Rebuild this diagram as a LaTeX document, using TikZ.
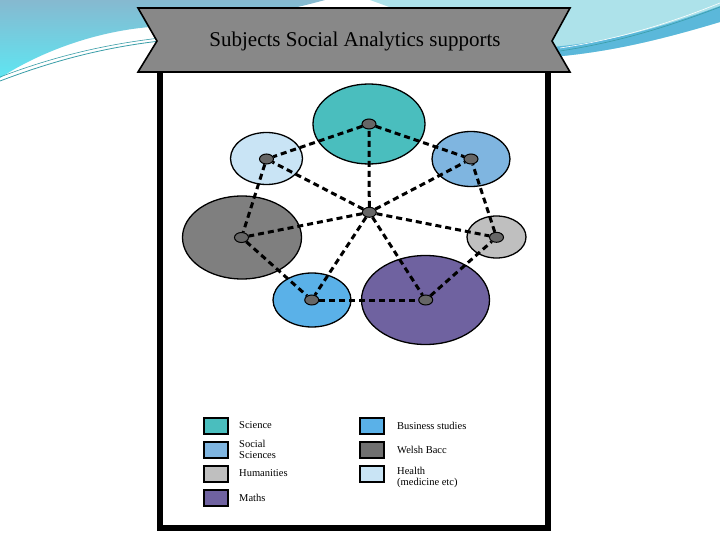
\documentclass[tikz,border=0pt]{standalone}
\usepackage{fontspec}
\setmainfont{Liberation Serif}
\usetikzlibrary{shapes.geometric}
\definecolor{sciC}{HTML}{4ABEBE}
\definecolor{socC}{HTML}{7FB5E0}
\definecolor{humC}{HTML}{BFBFBF}
\definecolor{matC}{HTML}{6F62A0}
\definecolor{busC}{HTML}{5AB1E8}
\definecolor{welC}{HTML}{7F7F7F}
\definecolor{welL}{HTML}{707070}
\definecolor{heaC}{HTML}{C9E4F5}
\definecolor{banC}{HTML}{888888}
\definecolor{dotC}{HTML}{666666}
\definecolor{bgTop}{HTML}{86B9D0}
\definecolor{bgBot}{HTML}{5EE6F2}
\definecolor{bgR}{HTML}{ADE2EA}
\definecolor{bgBand}{HTML}{5BB8DA}
\definecolor{swLine}{HTML}{3A9EA8}
\begin{document}
\begin{tikzpicture}[x=1pt,y=-1pt,
  bubble/.style={ellipse, draw=black, line width=1.3pt, inner sep=0pt},
  hubdot/.style={ellipse, draw=black, line width=1pt, fill=dotC, minimum width=14pt, minimum height=10pt, inner sep=0pt},
  link/.style={draw=black, line width=3pt, dash pattern=on 6pt off 4pt},
  legbox/.style={rectangle, draw=black, line width=2pt, minimum width=24pt, minimum height=16pt, inner sep=0pt},
  legtext/.style={anchor=west, align=left, inner sep=0pt, font=\fontsize{10.5}{11}\selectfont}]
\useasboundingbox (0,0) rectangle (720,540);
\fill[white] (0,0) rectangle (720,540);
% background swooshes
\shade[top color=bgTop, bottom color=bgBot] (0,0) -- (325,0) .. controls (260,18) and (200,24) .. (150,27) .. controls (90,32) and (35,55) .. (0,78) -- cycle;
\draw[swLine, line width=0.8pt] (0,81) .. controls (50,62) and (100,48) .. (160,41);
\draw[swLine, line width=0.6pt] (0,77) .. controls (50,58) and (100,45) .. (160,38);
\fill[bgR] (370,0) -- (720,0) -- (720,22) .. controls (660,40) and (610,52) .. (552,57) -- (480,40) -- cycle;
\fill[bgBand] (720,6) .. controls (660,28) and (610,42) .. (552,47) -- (552,57) .. controls (610,52) and (660,40) .. (720,22) -- cycle;
\draw[white, line width=0.6pt] (560,48) .. controls (620,39) and (670,23) .. (720,3);
\draw[swLine, line width=0.6pt] (560,51) .. controls (620,42) and (670,26) .. (720,7);
% board
\fill[white] (160,72) rectangle (548,528);
\draw[black, line width=6pt] (160,70) -- (160,528) -- (548,528) -- (548,70);
% banner
\draw[fill=banC, line width=1.6pt, line join=miter] (138,8) -- (570,8) -- (552,41) -- (570,72) -- (138,72) -- (157,41) -- cycle;
\node[font=\fontsize{21}{24}\selectfont] (title) at (355,41) {Subjects Social Analytics supports};
% bubbles
\node[bubble, fill=sciC, minimum width=112pt, minimum height=80pt] (bsci) at (369,124) {};
\node[bubble, fill=heaC, minimum width=72pt, minimum height=52pt] (bhea) at (266.5,158.5) {};
\node[bubble, fill=socC, minimum width=78pt, minimum height=55pt] (bsoc) at (471,159) {};
\node[bubble, fill=welC, minimum width=119pt, minimum height=83pt] (bwel) at (242,237.5) {};
\node[bubble, fill=humC, minimum width=59pt, minimum height=42pt] (bhum) at (496.5,237) {};
\node[bubble, fill=busC, minimum width=78pt, minimum height=54pt] (bbus) at (312,300) {};
\node[bubble, fill=matC, minimum width=128pt, minimum height=89pt] (bmat) at (425.5,300) {};
% dots
\node[hubdot] (dsci) at (369,124) {};
\node[hubdot] (dhea) at (266.5,159) {};
\node[hubdot] (dsoc) at (471,159) {};
\node[hubdot] (dwel) at (241.5,237.5) {};
\node[hubdot] (dhum) at (496.5,237.3) {};
\node[hubdot] (dbus) at (311.7,300) {};
\node[hubdot] (dmat) at (425.7,300) {};
\node[hubdot] (dcen) at (369.3,212.3) {};
% links
\foreach \n in {dsci,dhea,dsoc,dwel,dhum,dbus,dmat}
  \draw[link] (dcen) -- (\n);
\draw[link] (dsci) -- (dhea);
\draw[link] (dsci) -- (dsoc);
\draw[link] (dhea) -- (dwel);
\draw[link] (dwel) -- (dbus);
\draw[link] (dbus) -- (dmat);
\draw[link] (dmat) -- (dhum);
\draw[link] (dhum) -- (dsoc);
% legend
\node[legbox, fill=sciC] (lsci) at (215.5,425.5) {};
\node[legtext] (tsci) at (239,425.5) {Science};
\node[legbox, fill=socC] (lsoc) at (215.5,449.5) {};
\node[legtext] (tsoc) at (239,449) {Social\\Sciences};
\node[legbox, fill=humC] (lhum) at (215.5,474) {};
\node[legtext] (thum) at (239,473.5) {Humanities};
\node[legbox, fill=matC] (lmat) at (215.5,498) {};
\node[legtext] (tmat) at (239,497.5) {Maths};
\node[legbox, fill=busC] (lbus) at (372,425.5) {};
\node[legtext] (tbus) at (397,425.5) {Business studies};
\node[legbox, fill=welL] (lwel) at (372,449.5) {};
\node[legtext] (twel) at (397,449.5) {Welsh Bacc};
\node[legbox, fill=heaC] (lhea) at (372,474) {};
\node[legtext] (thea) at (397,477.5) {Health\\(medicine etc)};
\end{tikzpicture}
\end{document}
